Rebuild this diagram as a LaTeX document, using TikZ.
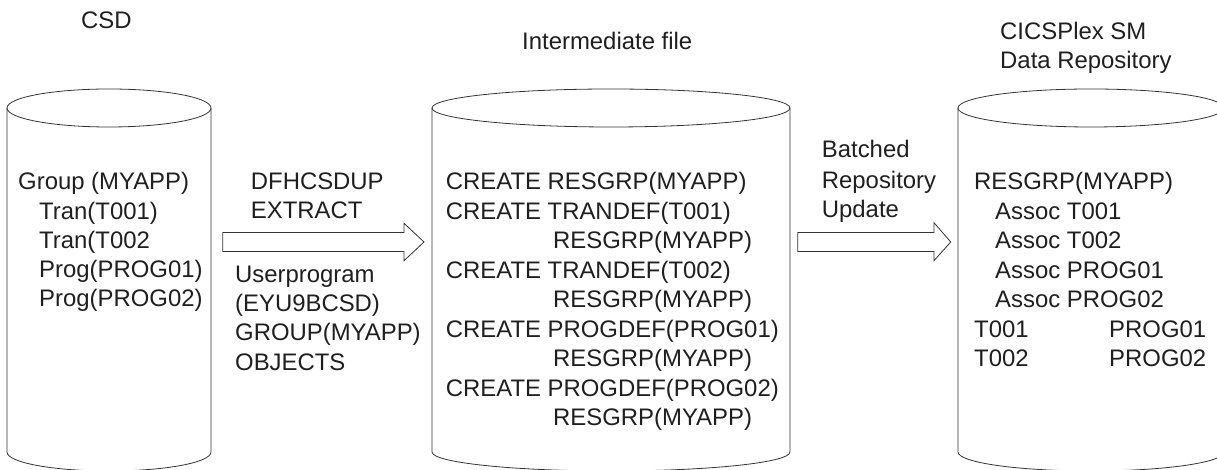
\documentclass[tikz,border=0pt]{standalone}
\usepackage{fontspec}
\setmainfont{Liberation Sans}
\usetikzlibrary{calc}
\tikzset{
  txt/.style={anchor=base west, inner sep=0pt, font=\fontsize{23.9}{28}\selectfont, text=black!88},
  cyl/.style={draw=black!80, line width=0.8pt},
  blockarrow/.style={draw=black!80, line width=0.8pt, fill=white, line join=miter}
}
\begin{document}
\begin{tikzpicture}[x=1pt,y=1pt]
\clip (0,0) rectangle (1217,470);
\fill[white] (0,0) rectangle (1217,470);

% cylinders
\draw[cyl] (109,362) ellipse[x radius=102, y radius=19];
\draw[cyl] (7,362) -- (7,18) arc[start angle=180, end angle=360, x radius=102, y radius=19] -- (211,362);

\draw[cyl] (611,362) ellipse[x radius=179, y radius=19];
\draw[cyl] (432,362) -- (432,18) arc[start angle=180, end angle=360, x radius=179, y radius=19] -- (790,362);

\draw[cyl] (1091,362) ellipse[x radius=133, y radius=19];
\draw[cyl] (958,362) -- (958,18) arc[start angle=180, end angle=360, x radius=133, y radius=19] -- (1224,362);

% titles
\node[txt] (csd) at (81,441) {CSD};
\node[txt] (inter) at (522,420) {Intermediate file};
\node[txt] (cics1) at (1000,430.5) {CICSPlex SM};
\node[txt] (cics2) at (1000,401.5) {Data Repository};

% left cylinder content
\node[txt] (g) at (18,280) {Group (MYAPP)};
\node[txt] (t1) at (39,250.7) {Tran(T001)};
\node[txt] (t2) at (39,221.5) {Tran(T002};
\node[txt] (p1) at (39,192.2) {Prog(PROG01)};
\node[txt] (p2) at (39,163) {Prog(PROG02)};

% arrow 1 labels
\node[txt] (dfh) at (250.7,280) {DFHCSDUP};
\node[txt] (ext) at (250.7,251.5) {EXTRACT};
\node[txt] (up) at (235,187.5) {Userprogram};
\node[txt] (eyu) at (235,158.2) {(EYU9BCSD)};
\node[txt] (grp) at (235,129) {GROUP(MYAPP)};
\node[txt] (obj) at (235,99.7) {OBJECTS};

% middle content
\node[txt] (m1) at (445.7,280) {CREATE RESGRP(MYAPP)};
\node[txt] (m2) at (445.7,250.5) {CREATE TRANDEF(T001)};
\node[txt] (m3) at (553,221) {RESGRP(MYAPP)};
\node[txt] (m4) at (445.7,191.5) {CREATE TRANDEF(T002)};
\node[txt] (m5) at (553,162) {RESGRP(MYAPP)};
\node[txt] (m6) at (445.7,132.5) {CREATE PROGDEF(PROG01)};
\node[txt] (m7) at (553,103) {RESGRP(MYAPP)};
\node[txt] (m8) at (445.7,73.5) {CREATE PROGDEF(PROG02)};
\node[txt] (m9) at (553,44) {RESGRP(MYAPP)};

% arrow 2 labels
\node[txt] (bat) at (821.7,312) {Batched};
\node[txt] (rep) at (821.7,281.7) {Repository};
\node[txt] (upd) at (821.7,252.3) {Update};

% right content
\node[txt] (r1) at (974,280) {RESGRP(MYAPP)};
\node[txt] (r2) at (995,250.5) {Assoc T001};
\node[txt] (r3) at (995,221) {Assoc T002};
\node[txt] (r4) at (995,191.5) {Assoc PROG01};
\node[txt] (r5) at (995,162) {Assoc PROG02};
\node[txt] (r6) at (974,132.5) {T001};
\node[txt] (r7) at (1109,132.5) {PROG01};
\node[txt] (r8) at (974,103) {T002};
\node[txt] (r9) at (1109,103) {PROG02};

% block arrows
\coordinate (a1tail) at (222.7,228);
\coordinate (a1tip) at (424,228);
\draw[blockarrow] ($(a1tail)+(0,9.5)$) -- (404,237.5) -- (404,246.7) -- (a1tip) -- (404,209.3) -- (404,218.5) -- ($(a1tail)+(0,-9.5)$) -- cycle;
\coordinate (a2tail) at (797.7,228);
\coordinate (a2tip) at (950.7,228);
\draw[blockarrow] ($(a2tail)+(0,9.5)$) -- (934,237.5) -- (934,247.3) -- (a2tip) -- (934,209.3) -- (934,218.5) -- ($(a2tail)+(0,-9.5)$) -- cycle;
\end{tikzpicture}
\end{document}
